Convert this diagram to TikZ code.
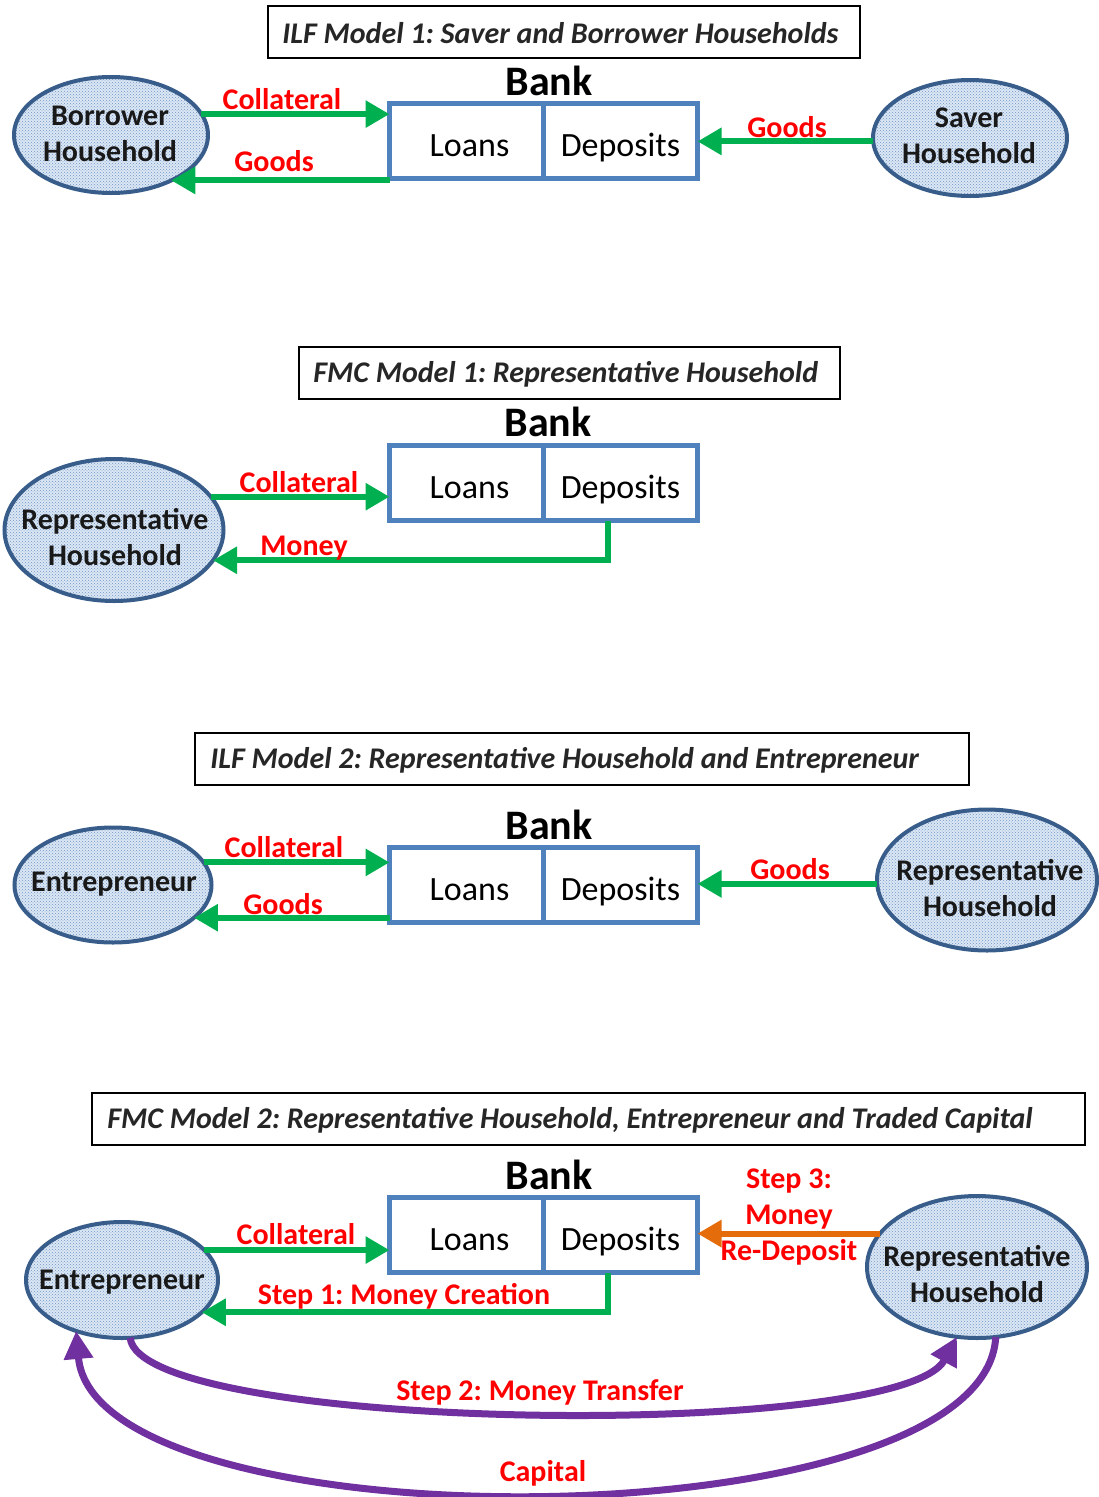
\documentclass[tikz,border=0pt]{standalone}
\usepackage{fontspec}
\setmainfont{Carlito}
\usetikzlibrary{shapes.geometric,arrows.meta,patterns}
\definecolor{grn}{HTML}{00B050}
\definecolor{bankblue}{HTML}{4F81BD}
\definecolor{ellb}{HTML}{385D8A}
\definecolor{ellbg}{HTML}{DCE7F4}
\definecolor{ellpat}{HTML}{6F96C8}
\definecolor{orng}{HTML}{E46C0A}
\definecolor{purp}{HTML}{7030A0}
\frenchspacing
\begin{document}
\begin{tikzpicture}[x=1pt,y=-1pt,
  ttlbox/.style={draw=black, line width=1.5pt, fill=white, minimum height=52pt, inner sep=0pt},
  ttltext/.style={anchor=west, inner sep=0pt, font=\bfseries\itshape\fontsize{30}{36}\selectfont, text=black!85},
  bankl/.style={font=\bfseries\fontsize{42}{48}\selectfont},
  cell/.style={draw=bankblue, line width=5pt, fill=white, minimum width=154pt, minimum height=75pt,
    inner sep=0pt, outer sep=0pt, text height=34pt, text depth=4pt, font=\fontsize{34}{40}\selectfont},
  ell/.style={ellipse, draw=ellb, line width=4pt, preaction={fill=ellbg}, pattern=crosshatch dots,
    pattern color=ellpat, inner sep=0pt, outer sep=0pt},
  etext/.style={font=\bfseries\fontsize{30}{36}\selectfont, align=center, text=black!90},
  lab/.style={font=\bfseries\fontsize{30}{36}\selectfont, text=red, align=center},
  garrow/.style={draw=grn, line width=6pt, -{Triangle[length=24pt,width=26pt]}},
  oarrow/.style={draw=orng, line width=6pt, -{Triangle[length=24pt,width=26pt]}},
  parrow/.style={draw=purp, line width=7pt, -{Triangle[length=28pt,width=28pt]}}
]
\useasboundingbox (0,0) rectangle (1099,1497);

% ---------- Panel 1 ----------
\node[ttlbox, minimum width=592pt] (t1) at (564,32) {};
\node[ttltext] (t1T) at ([xshift=15pt,yshift=-1pt]t1.west) {ILF Model 1: Saver and Borrower Households};
\node[bankl] (bk1) at (549,81) {Bank};
\node[cell] (lo1) at (466.5,141) {\hspace{6pt}Loans};
\node[cell] (de1) at (620.5,141) {Deposits};
\node[ell, minimum width=194pt, minimum height=116pt] (bor) at (111,135) {};
\node[etext] (borT) at (110,134) {Borrower\\Household};
\node[ell, minimum width=194pt, minimum height=116pt] (sav) at (970,138) {};
\node[etext] (savT) at (969,136) {Saver\\Household};
\draw[garrow] (bor.13) -- (lo1.west |- bor.13);
\draw[garrow] (lo1.west |- bor.-37) -- (bor.-37);
\draw[garrow] (sav.182) -- (de1.east |- sav.182);
\node[lab] (l1a) at (282,99) {Collateral};
\node[lab] (l1b) at (274,161) {Goods};
\node[lab] (l1c) at (787,127) {Goods};

% ---------- Panel 2 ----------
\node[ttlbox, minimum width=541pt] (t2) at (569.5,373) {};
\node[ttltext] (t2T) at ([xshift=15pt,yshift=-1pt]t2.west) {FMC Model 1: Representative Household};
\node[bankl] (bk2) at (548,422) {Bank};
\node[cell] (lo2) at (466.5,483) {\hspace{6pt}Loans};
\node[cell] (de2) at (620.5,483) {Deposits};
\node[ell, minimum width=219pt, minimum height=142pt] (rep2) at (114,530) {};
\node[etext] (rep2T) at (115,537) {Representative\\Household};
\draw[garrow] (rep2.19) -- (lo2.west |- rep2.19);
\draw[garrow] ([xshift=-12.5pt]de2.south) |- (rep2.-17);
\node[lab] (l2a) at (299,482) {Collateral};
\node[lab] (l2b) at (304,548) {Money};

% ---------- Panel 3 ----------
\node[ttlbox, minimum width=774pt] (t3) at (582,759) {};
\node[ttltext] (t3T) at ([xshift=16pt,yshift=-1pt]t3.west) {ILF Model 2: Representative Household and Entrepreneur};
\node[bankl] (bk3) at (549,825) {Bank};
\node[cell] (lo3) at (466.5,885) {\hspace{6pt}Loans};
\node[cell] (de3) at (620.5,885) {Deposits};
\node[ell, minimum width=197pt, minimum height=115pt] (ent3) at (113,885) {};
\node[etext] (ent3T) at (114,884) {Entrepreneur};
\node[ell, minimum width=220pt, minimum height=141pt] (rep3) at (987,880) {};
\node[etext] (rep3T) at (990,888) {Representative\\Household};
\draw[garrow] (ent3.14) -- (lo3.west |- ent3.14);
\draw[garrow] (lo3.west |- ent3.-22) -- (ent3.-22);
\draw[garrow] (rep3.182) -- (de3.east |- rep3.182);
\node[lab] (l3a) at (284,847) {Collateral};
\node[lab] (l3b) at (283,904) {Goods};
\node[lab] (l3c) at (790,869) {Goods};

% ---------- Panel 4 ----------
\node[ttlbox, minimum width=993pt] (t4) at (588.5,1119) {};
\node[ttltext] (t4T) at ([xshift=16pt,yshift=-1pt]t4.west) {FMC Model 2: Representative Household, Entrepreneur and Traded Capital};
\node[bankl] (bk4) at (549,1175) {Bank};
\node[cell] (lo4) at (466.5,1235) {\hspace{6pt}Loans};
\node[cell] (de4) at (620.5,1235) {Deposits};
\node[ell, minimum width=192pt, minimum height=116pt] (ent4) at (122,1280) {};
\node[etext] (ent4T) at (122,1282) {Entrepreneur};
\node[ell, minimum width=220pt, minimum height=142pt] (rep4) at (977,1267) {};
\node[etext] (rep4T) at (977,1274) {Representative\\Household};
\draw[garrow] (ent4.20) -- (lo4.west |- ent4.20);
\draw[garrow] ([xshift=-12.5pt]de4.south) |- (ent4.-22);
\draw[oarrow] (rep4.161) -- (de4.east |- rep4.161);
\draw[parrow] (ent4.-82) .. controls (140,1432) and (900,1442) .. (rep4.-106);
\draw[parrow] (rep4.-75) .. controls (985,1545) and (95,1548) .. (ent4.-132);
\node[lab] (l4a) at (296,1234) {Collateral};
\node[lab] (l4b) at (404,1296) {Step 1: Money Creation};
\node[lab] (l4c) at (789,1217) {Step 3:\\Money\\Re-Deposit};
\node[lab] (l4d) at (540,1392) {Step 2: Money Transfer};
\node[lab] (l4e) at (543,1473) {Capital};
\end{tikzpicture}
\end{document}
